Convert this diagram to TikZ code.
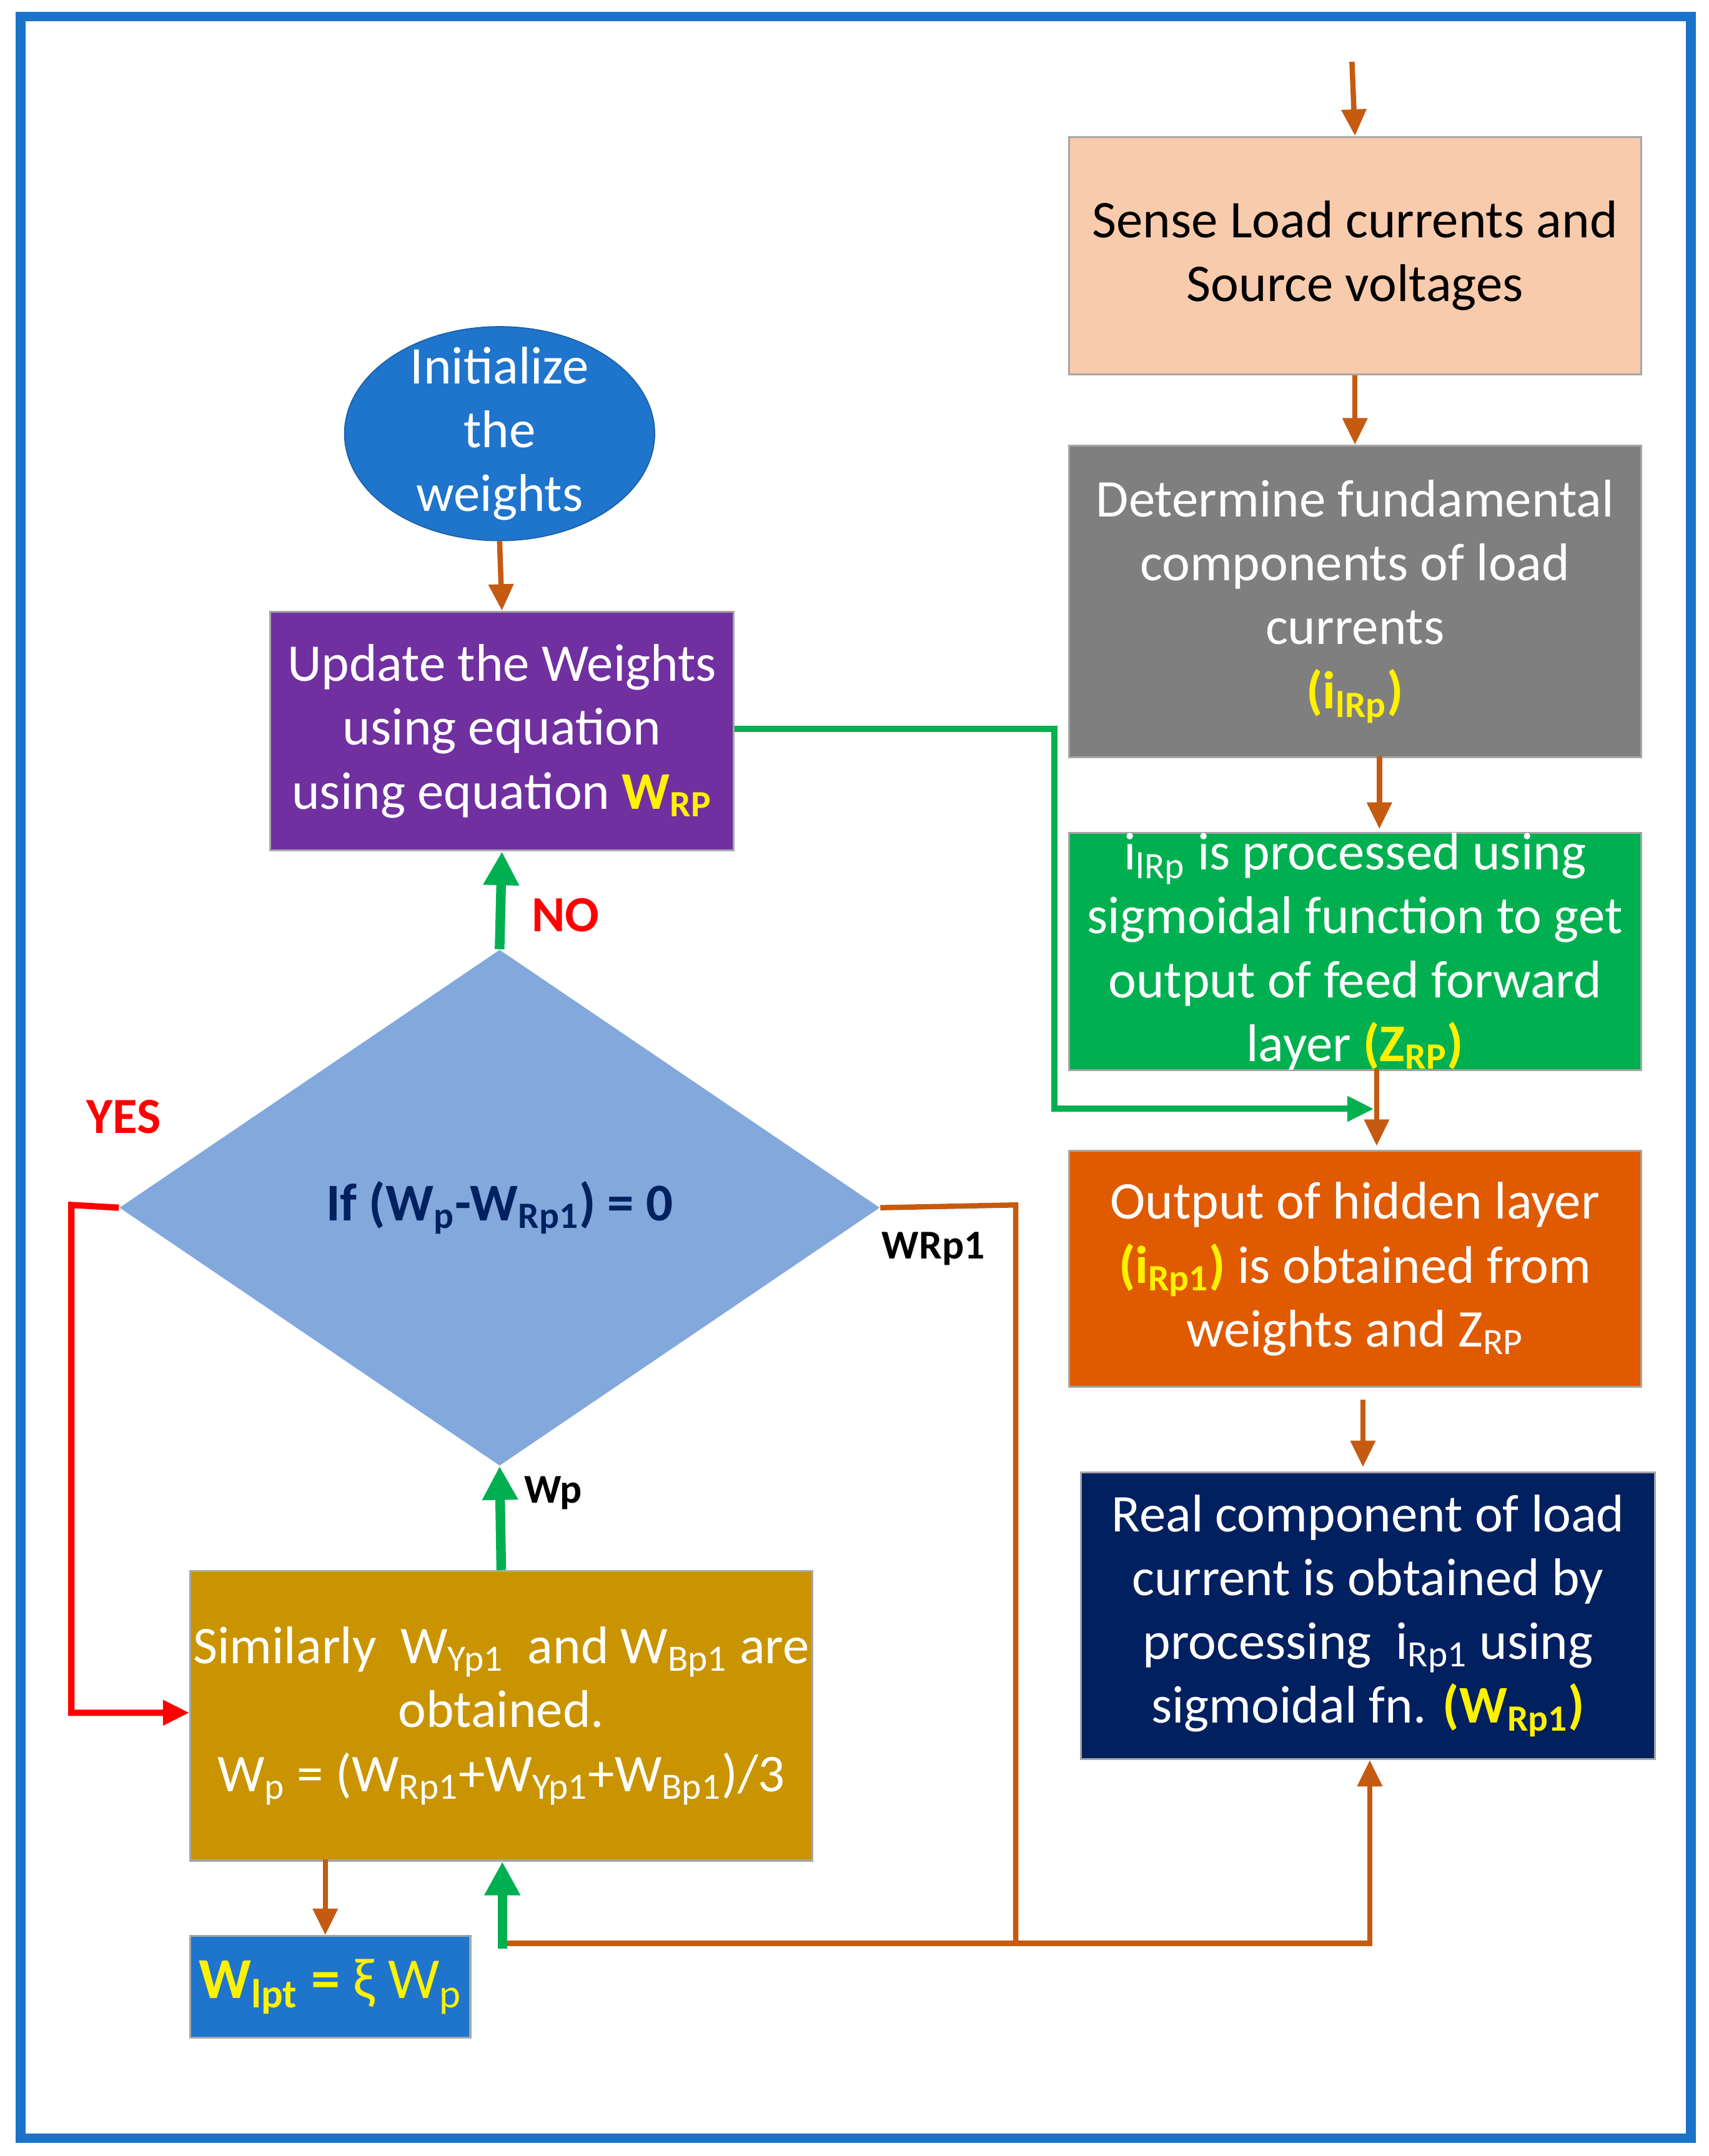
\documentclass[tikz,border=0pt]{standalone}
\usepackage{fontspec}
\setmainfont{Carlito}
\usetikzlibrary{arrows.meta,shapes.geometric}
\definecolor{bord}{HTML}{1A73C8}
\definecolor{peach}{HTML}{F8CBAD}
\definecolor{gr}{HTML}{7F7F7F}
\definecolor{grn}{HTML}{00B050}
\definecolor{org}{HTML}{E05A00}
\definecolor{navy}{HTML}{002060}
\definecolor{blu}{HTML}{1F74CC}
\definecolor{purp}{HTML}{7030A0}
\definecolor{gold}{HTML}{C99400}
\definecolor{dia}{HTML}{82A8DC}
\definecolor{arr}{HTML}{C55A11}
\definecolor{yel}{HTML}{FFF200}
\definecolor{lgr}{HTML}{00B050}
\begin{document}
\begin{tikzpicture}[x=0.02cm,y=-0.02cm,
  txt/.style={font=\fontsize{22}{26.5}\selectfont,align=center,text=white},
  box/.style={draw=gray!70,line width=0.8pt,inner sep=0pt},
  oa/.style={draw=arr,line width=2.2pt,-{Triangle[length=11pt,width=10pt]}},
  ol/.style={draw=arr,line width=2.2pt},
  ga/.style={draw=lgr,line width=4pt,-{Triangle[length=14pt,width=14pt]}},
  gl/.style={draw=lgr,line width=2.6pt},
  lab/.style={font=\fontsize{17}{20}\selectfont\bfseries}]
\useasboundingbox (0,0) rectangle (1245,1571);
\draw[bord,line width=4pt] (15,12) rectangle (1232,1558);
% right column
\node[box,fill=peach,minimum width=417*0.02cm,minimum height=173*0.02cm,anchor=north west] (s1) at (778,99) {};
\node[txt,text=black] at (s1.center) {Sense Load currents and\\Source voltages};
\node[box,fill=gr,minimum width=417*0.02cm,minimum height=227*0.02cm,anchor=north west] (s2) at (778,324) {};
\node[txt] at (s2.center) {Determine fundamental\\components of load\\currents\\\textcolor{yel}{\textbf{(i\textsubscript{lRp})}}};
\node[box,fill=grn,minimum width=417*0.02cm,minimum height=173*0.02cm,anchor=north west] (s3) at (778,606) {};
\node[txt] at (s3.center) {i\textsubscript{lRp} is processed using\\sigmoidal function to get\\output of feed forward\\layer \textcolor{yel}{\textbf{(Z\textsubscript{RP})}}};
\node[box,fill=org,minimum width=417*0.02cm,minimum height=172*0.02cm,anchor=north west] (s4) at (778,838) {};
\node[txt] at (s4.center) {Output of hidden layer\\\textcolor{yel}{\textbf{(i\textsubscript{Rp1})}} is obtained from\\weights and Z\textsubscript{RP}};
\node[box,fill=navy,minimum width=418*0.02cm,minimum height=209*0.02cm,anchor=north west] (s5) at (787,1072) {};
\node[txt] at (s5.center) {Real component of load\\current is obtained by\\processing \ i\textsubscript{Rp1} using\\sigmoidal fn. \textcolor{yel}{\textbf{(W\textsubscript{Rp1})}}};
\coordinate (top) at (985,45);
\draw[oa] (top) -- (s1.north);
\draw[oa] (s1.south) -- (s2.north);
\draw[oa] (1005,551) -- (1005,604);
\draw[oa] (1003,779) -- (1003,835);
\draw[oa] (993,1020) -- (993,1069);
% left column
\node[ellipse,fill=blu,draw=blu!80!black,minimum width=226*0.02cm,minimum height=156*0.02cm,inner sep=0pt] (ini) at (364,316) {};
\node[txt] at (ini.center) {Initialize\\the\\weights};
\node[box,fill=purp,minimum width=338*0.02cm,minimum height=174*0.02cm,anchor=north west] (up) at (196,445) {};
\node[txt] at (up.center) {Update the Weights\\using equation\\using equation \textcolor{yel}{\textbf{W\textsubscript{RP}}}};
\node[diamond,fill=dia,minimum width=554*0.02cm,minimum height=376*0.02cm,inner sep=0pt,aspect=1.47] (d) at (364,880) {};
\node[txt,text=navy,font=\fontsize{22}{26}\selectfont\bfseries] at (d.center) {If (W\textsubscript{p}-W\textsubscript{Rp1}) = 0};
\node[box,fill=gold,minimum width=453*0.02cm,minimum height=211*0.02cm,anchor=north west] (g) at (138,1144) {};
\node[txt] at (g.center) {Similarly \ W\textsubscript{Yp1} \ and W\textsubscript{Bp1} are\\obtained.\\W\textsubscript{p} = (W\textsubscript{Rp1}+W\textsubscript{Yp1}+W\textsubscript{Bp1})/3};
\node[box,fill=blu,minimum width=204*0.02cm,minimum height=74*0.02cm,anchor=north west] (w) at (138,1410) {};
\node[txt,text=yel,font=\fontsize{24}{28}\selectfont] at (w.center) {\textbf{W\textsubscript{lpt} =} ξ W\textsubscript{p}};
\draw[oa] (ini.south) -- (up.north);
\draw[ga] (d.north) -- (up.south);
\draw[ga] (g.north) -- (d.south);
\draw[oa] (237,1355) -- (w.north -| 237,0);
\coordinate (c1) at (768,531);
\coordinate (c2) at (768,808);
\draw[gl,-{Triangle[length=11pt,width=10pt]}] (up.east |- c1) -- (c1) -- (c2) -- (1001,808);
\coordinate (r1) at (52,878);
\coordinate (r2) at (52,1248);
\draw[red,line width=2.6pt,-{Triangle[length=11pt,width=10pt]}] (d.west) -- (r1) -- (r2) -- (g.west |- r2);
\coordinate (o1) at (740,878);
\coordinate (o2) at (740,1416);
\coordinate (o3) at (998,1416);
\coordinate (gs) at (366,1416);
\draw[ol] (d.east) -- (o1) -- (o2);
\draw[oa] (gs) -- (o3) -- (s5.south -| o3);
\draw[ga] (366,1420) -- (g.south -| 366,0);
\node[lab,text=red,font=\fontsize{21}{24}\selectfont\bfseries] (no) at (412,667) {NO};
\node[lab,text=red,font=\fontsize{21}{24}\selectfont\bfseries] (yes) at (90,814) {YES};
\node[lab] (wp) at (403,1088) {Wp};
\node[lab] (wr) at (680,910) {WRp1};
\end{tikzpicture}
\end{document}
